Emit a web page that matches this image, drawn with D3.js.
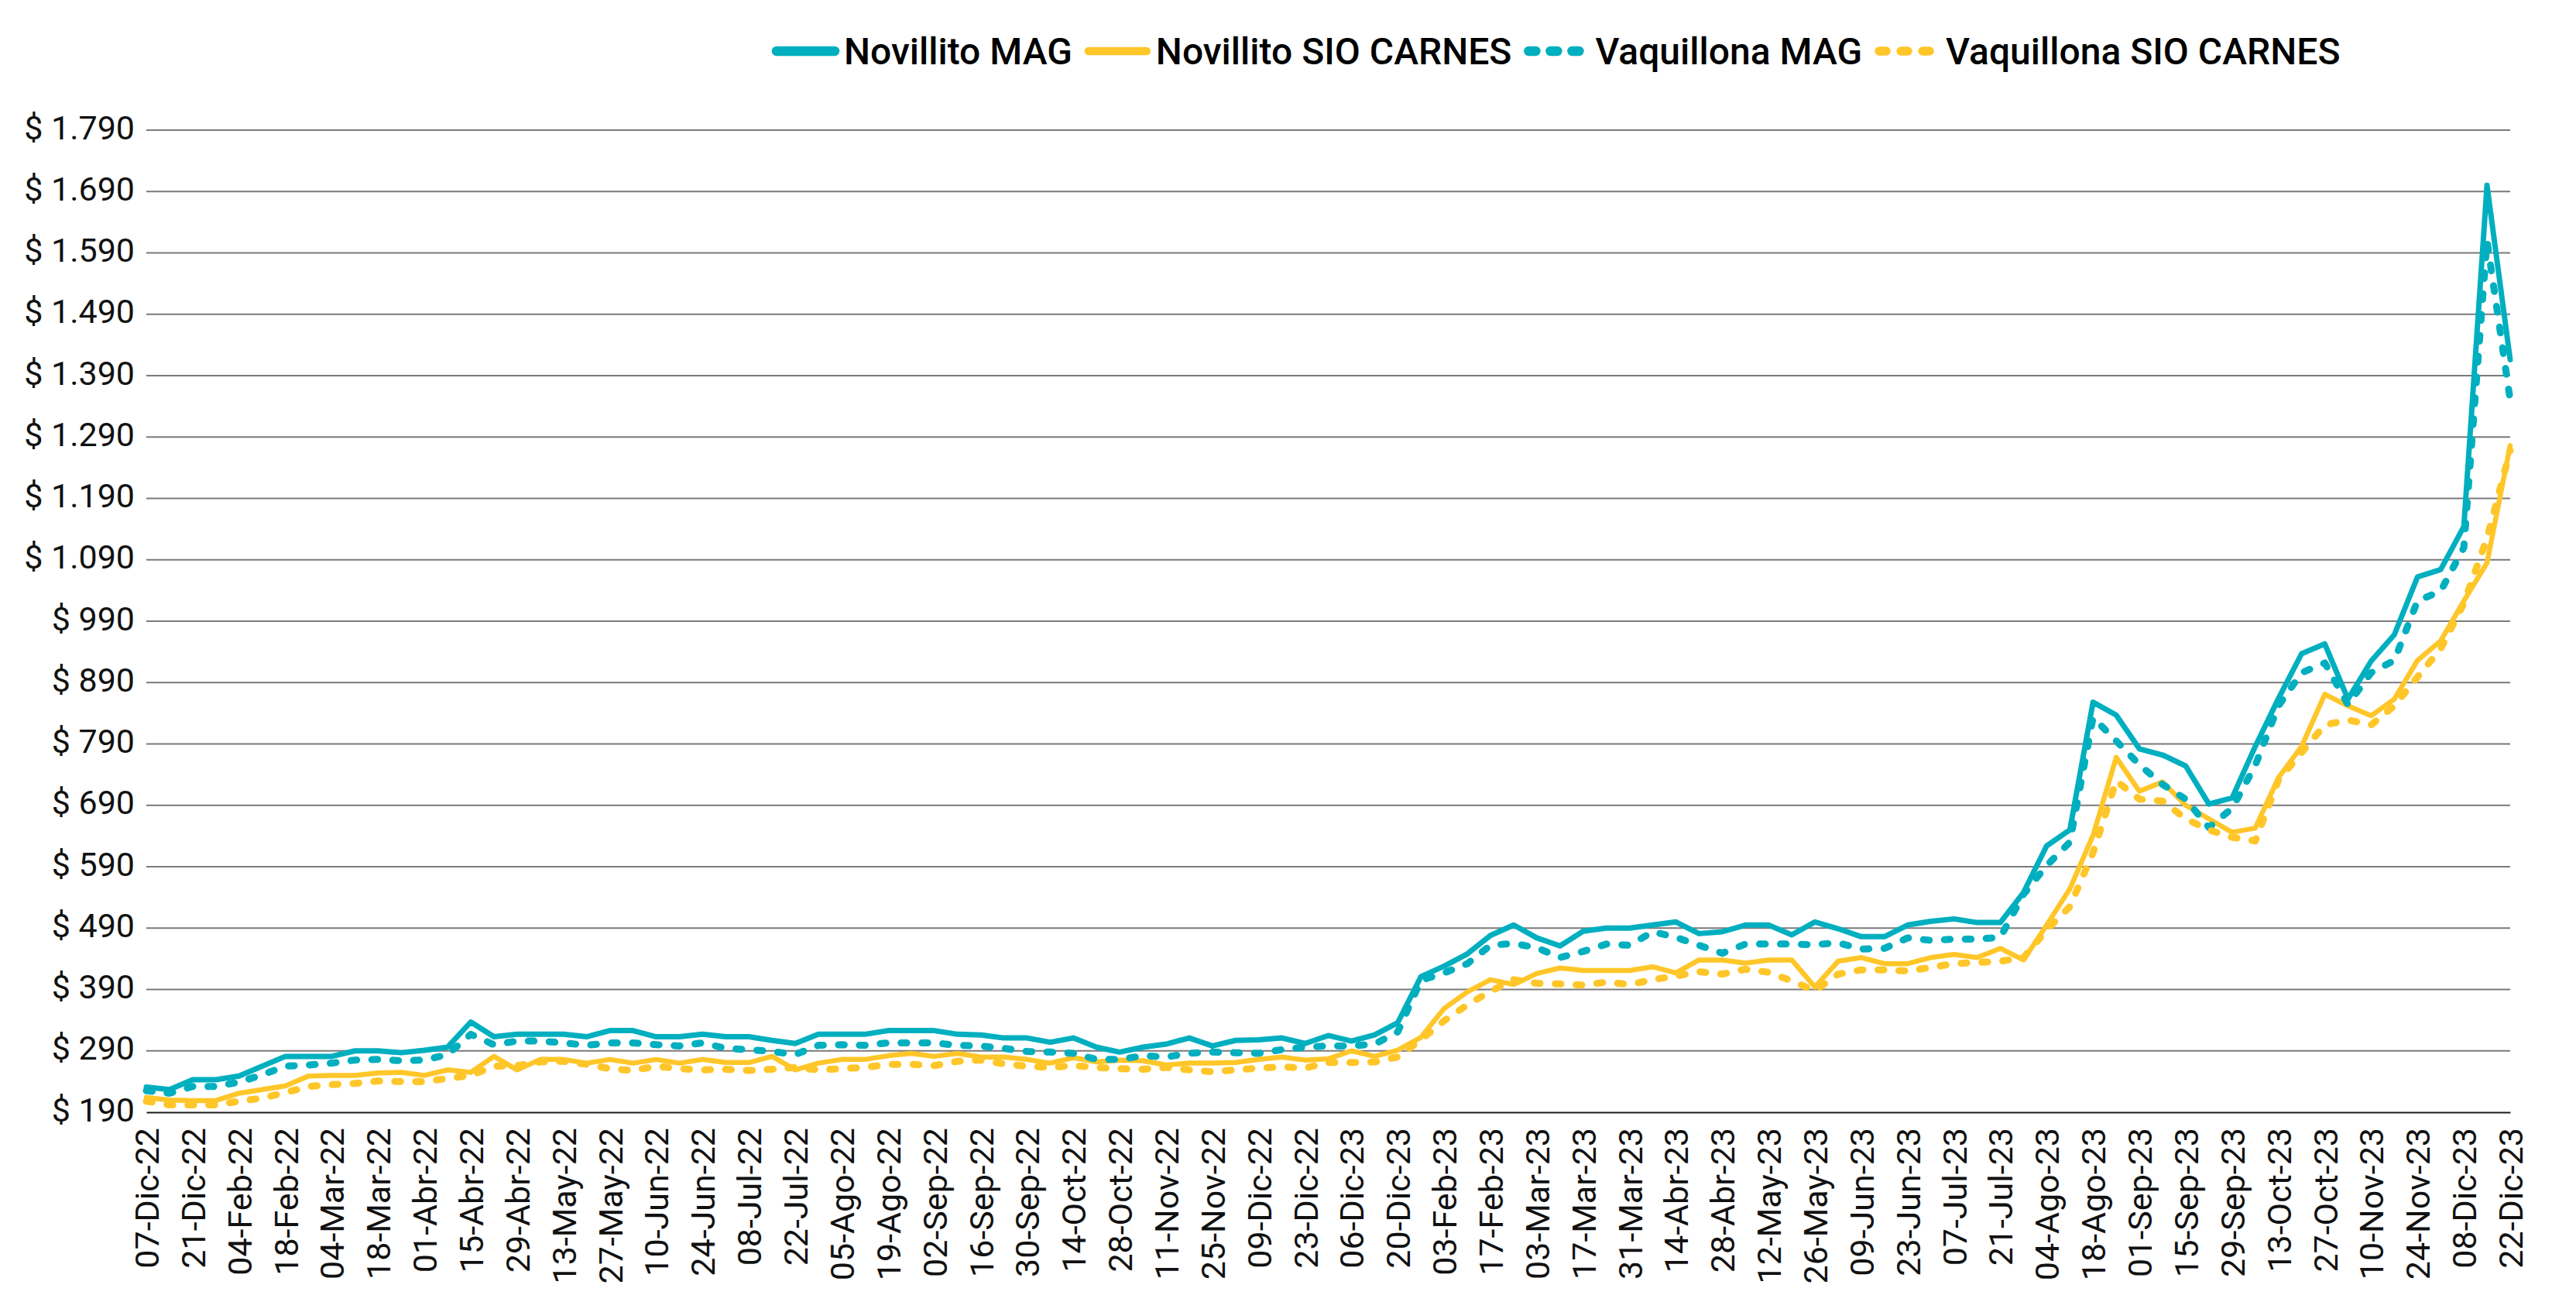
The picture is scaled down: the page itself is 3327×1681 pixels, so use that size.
<!DOCTYPE html>
<html>
<head>
<meta charset="utf-8">
<script src="https://cdn.jsdelivr.net/npm/d3@7"></script>
<style>
  html, body { margin: 0; padding: 0; background: #fff; }
  svg { display: block; font-family: Roboto, "Noto Sans", sans-serif; }
</style>
</head>
<body>
<div id="chart"></div>
<script>
// tick labels of the date axis, one every two weeks (as printed in the original)
const etiquetas = [
  "07-Dic-22", "21-Dic-22", "04-Feb-22", "18-Feb-22", "04-Mar-22", "18-Mar-22",
  "01-Abr-22", "15-Abr-22", "29-Abr-22", "13-May-22", "27-May-22", "10-Jun-22",
  "24-Jun-22", "08-Jul-22", "22-Jul-22", "05-Ago-22", "19-Ago-22", "02-Sep-22",
  "16-Sep-22", "30-Sep-22", "14-Oct-22", "28-Oct-22", "11-Nov-22", "25-Nov-22",
  "09-Dic-22", "23-Dic-22", "06-Dic-23", "20-Dic-23", "03-Feb-23", "17-Feb-23",
  "03-Mar-23", "17-Mar-23", "31-Mar-23", "14-Abr-23", "28-Abr-23", "12-May-23",
  "26-May-23", "09-Jun-23", "23-Jun-23", "07-Jul-23", "21-Jul-23", "04-Ago-23",
  "18-Ago-23", "01-Sep-23", "15-Sep-23", "29-Sep-23", "13-Oct-23", "27-Oct-23",
  "10-Nov-23", "24-Nov-23", "08-Dic-23", "22-Dic-23"
];

const yTicks = [190, 290, 390, 490, 590, 690, 790, 890, 990, 1090, 1190, 1290, 1390, 1490, 1590, 1690, 1790];

// weekly prices, 103 weeks
const novilloMAG = [
  231, 227, 243, 243, 249, 265, 281, 281, 281, 290, 290, 287, 291, 296, 337, 313,
  317, 317, 317, 313, 323, 323, 313, 313, 317, 313, 313, 307, 302, 317, 317, 317,
  323, 323, 323, 317, 316, 311, 311, 304, 311, 296, 288, 296, 301, 311, 298, 307,
  308, 311, 302, 315, 306, 316, 336, 411, 428, 448, 478, 495, 474, 461, 485, 490,
  490, 495, 500, 481, 484, 495, 495, 479, 500, 489, 476, 476, 495, 501, 505, 499,
  499, 548, 624, 650, 858, 837, 782, 772, 754, 692, 702, 786, 864, 937, 953, 863,
  925, 968, 1062, 1074, 1144, 1700, 1416
];

const novilloSIO = [
  214, 210, 209, 209, 221, 227, 233, 249, 250, 250, 254, 255, 250, 259, 255, 281,
  259, 276, 276, 270, 276, 270, 276, 270, 276, 271, 271, 281, 259, 270, 276, 276,
  282, 286, 281, 286, 280, 280, 276, 270, 279, 272, 275, 274, 267, 270, 270, 271,
  276, 280, 275, 277, 290, 281, 291, 312, 359, 386, 406, 398, 416, 425, 421, 421,
  421, 427, 417, 438, 438, 433, 438, 438, 394, 436, 442, 432, 432, 442, 447, 442,
  457, 438, 495, 554, 641, 768, 713, 728, 690, 668, 646, 653, 735, 786, 871, 852,
  836, 863, 926, 958, 1023, 1085, 1276
];

const vaquillonaMAG = [
  225, 221, 232, 232, 239, 251, 265, 267, 270, 275, 276, 274, 275, 284, 317, 300,
  306, 306, 303, 299, 303, 303, 300, 298, 303, 294, 292, 289, 284, 299, 300, 299,
  303, 303, 303, 299, 298, 294, 289, 288, 286, 276, 276, 282, 280, 286, 288, 287,
  286, 292, 296, 298, 298, 301, 321, 405, 417, 432, 462, 465, 458, 442, 452, 464,
  462, 484, 475, 462, 449, 464, 464, 464, 463, 466, 456, 457, 474, 470, 472, 472,
  475, 545, 592, 630, 833, 795, 756, 724, 700, 654, 685, 755, 852, 906, 922, 854,
  906, 926, 1023, 1039, 1110, 1610, 1350
];

const vaquillonaSIO = [
  208, 202, 202, 202, 208, 213, 222, 232, 235, 237, 241, 240, 240, 245, 250, 265,
  266, 272, 273, 268, 261, 258, 265, 261, 259, 260, 258, 260, 263, 259, 261, 263,
  268, 268, 266, 273, 275, 269, 265, 263, 266, 263, 261, 260, 263, 259, 256, 259,
  262, 264, 262, 271, 271, 272, 280, 308, 339, 365, 387, 406, 400, 399, 397, 402,
  398, 406, 412, 419, 415, 423, 418, 404, 388, 415, 422, 422, 420, 426, 432, 434,
  436, 442, 487, 525, 613, 730, 700, 697, 668, 650, 638, 632, 731, 776, 821, 829,
  821, 852, 899, 945, 1019, 1125, 1268
];

const teal = "#00AFBF";
const amarillo = "#FFC629";

const series = [
  { name: "Novillito MAG", values: novilloMAG, color: teal, width: 7, dash: null, legendWidth: 12.5 },
  { name: "Novillito SIO CARNES", values: novilloSIO, color: amarillo, width: 6.5, dash: null, legendWidth: 10.5 },
  { name: "Vaquillona MAG", values: vaquillonaMAG, color: teal, width: 9, dash: "7.5 19.5", legendWidth: 12.5 },
  { name: "Vaquillona SIO CARNES", values: vaquillonaSIO, color: amarillo, width: 9, dash: "7.5 19.5", legendWidth: 11.5 }
];

const W = 3327, H = 1681;
const plot = { l: 189, r: 3242, t: 168, b: 1436 };

var svg = d3.select("#chart")
  .append("svg")
  .attr("width", W)
  .attr("height", H);

svg.append("rect").attr("width", W).attr("height", H).attr("fill", "#fff");

var x = d3.scaleLinear()
  .domain([0, novilloMAG.length - 1])
  .range([plot.l, plot.r]);

var y = d3.scaleLinear()
  .domain([d3.min(yTicks), d3.max(yTicks)])
  .range([plot.b, plot.t]);

var es = d3.formatLocale({ decimal: ",", thousands: ".", grouping: [3], currency: ["$ ", ""] });
var fmt = es.format("$,");

// grid lines
svg.append("g")
  .attr("class", "grid")
  .selectAll("line")
  .data(yTicks.slice(1))
  .join("line")
  .attr("x1", plot.l)
  .attr("x2", plot.r)
  .attr("y1", (d) => y(d))
  .attr("y2", (d) => y(d))
  .attr("stroke", "#7a7a7a")
  .attr("stroke-width", 2);

// y axis labels
var yAxis = d3.axisLeft(y).tickValues(yTicks).tickFormat(fmt).tickSize(0).tickPadding(15);
svg.append("g")
  .attr("class", "y axis")
  .attr("transform", "translate(" + plot.l + ",0)")
  .call(yAxis)
  .call((g) => g.select(".domain").remove())
  .selectAll("text")
  .attr("dy", null)
  .attr("y", 11)
  .attr("font-size", 43)
  .attr("font-family", "Roboto")
  .attr("fill", "#111");

// x axis
var xAxis = d3.axisBottom(x)
  .tickValues(d3.range(0, novilloMAG.length, 2))
  .tickFormat((i) => etiquetas[i / 2])
  .tickSize(0);

var gx = svg.append("g")
  .attr("class", "x axis")
  .attr("transform", "translate(0," + plot.b + ")")
  .call(xAxis);

gx.select(".domain")
  .attr("stroke", "#1a1a1a")
  .attr("stroke-width", 2.2);

gx.selectAll("text")
  .attr("transform", "rotate(-90)")
  .attr("text-anchor", "end")
  .attr("x", -20)
  .attr("y", 0)
  .attr("dy", "0.36em")
  .attr("font-size", 43)
  .attr("font-family", "Roboto")
  .attr("fill", "#111");

// lines
var line = d3.line()
  .x((d, i) => x(i))
  .y((d) => y(d));

svg.append("g")
  .attr("class", "plot")
  .selectAll("path")
  .data(series)
  .join("path")
  .attr("d", (s) => line(s.values))
  .attr("fill", "none")
  .attr("stroke", (s) => s.color)
  .attr("stroke-width", (s) => s.width)
  .attr("stroke-dasharray", (s) => s.dash)
  .attr("stroke-linecap", "round")
  .attr("stroke-linejoin", "round");

// legend
var legend = svg.append("g").attr("class", "legend");
var lx = 997;
var ly = 66;
series.forEach((s) => {
  var sym = legend.append("line")
    .attr("x1", lx + 6)
    .attr("x2", lx + 81)
    .attr("y1", ly)
    .attr("y2", ly)
    .attr("stroke", s.color)
    .attr("stroke-width", s.legendWidth)
    .attr("stroke-linecap", "round");
  if (s.dash) sym.attr("stroke-dasharray", "9 19").attr("x1", lx + 7).attr("x2", lx + 80);

  var t = legend.append("text")
    .attr("x", lx + 93)
    .attr("y", ly + 17)
    .attr("font-size", 48)
    .attr("font-weight", 500)
    .attr("font-family", "Roboto")
    .attr("fill", "#000")
    .text(s.name);
  lx = lx + 93 + t.node().getComputedTextLength() + 15;
});
</script>
</body>
</html>
